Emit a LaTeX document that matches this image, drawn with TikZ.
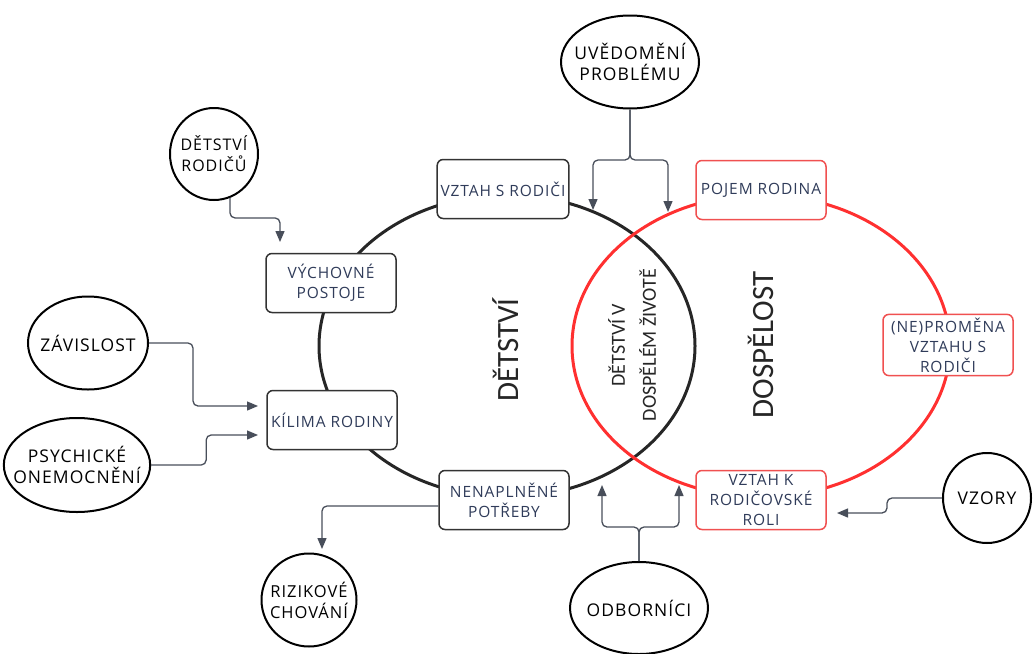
\documentclass[tikz,border=0pt]{standalone}
\usepackage{fontspec}
\usepackage{xcolor}
\usepackage{tikz}
\usetikzlibrary{shapes.geometric,arrows.meta}
\setmainfont{Open Sans}
\newfontfamily\bigfont{Carlito}
\newfontfamily\widefont[LetterSpace=6]{Open Sans}
\definecolor{boxtext}{RGB}{48,60,90}
\definecolor{linegray}{RGB}{72,78,90}
\definecolor{rimred}{RGB}{255,48,48}
\definecolor{boxred}{RGB}{240,80,80}

\begin{document}
\begin{tikzpicture}[x=1pt, y=-1pt,
    box/.style={draw=black!80, line width=1.5pt, rounded corners=6pt, fill=white,
        minimum width=130pt, minimum height=59pt, align=center, text=boxtext,
        font=\widefont\fontsize{15.5}{20}\selectfont},
    redbox/.style={box, draw=boxred},
    oval/.style={draw=black, line width=2pt, ellipse, inner sep=-12pt, align=center,
        font=\widefont\fontsize{17.5}{21}\selectfont},
    conn/.style={draw=linegray, line width=1.3pt, rounded corners=5pt,
        -{Triangle[width=9pt,length=11pt]}}]
            \useasboundingbox (0,0) rectangle (1035,653);

            % Circles
            \coordinate (childc) at (507,346);
            \coordinate (adultc) at (761,346);
            \draw[line width=3pt, black!85] (childc) ellipse [x radius=188pt, y radius=151pt];
            \draw[line width=3pt, rimred] (adultc) ellipse [x radius=189pt, y radius=151pt];

            % Labels inside circles
            \node[rotate=90, font=\bigfont\fontsize{31}{34}\selectfont, text=black!85] (childlabel) at (506,350) {DĚTSTVÍ};
            \node[rotate=90, font=\bigfont\fontsize{31}{34}\selectfont, text=black!85] (adultlabel) at (761,345) {DOSPĚLOST};
            \node[rotate=90, font=\bigfont\fontsize{20}{31}\selectfont, text=black!85, align=center] (overlap) at (632,345) {DĚTSTVÍ V\\DOSPĚLÉM ŽIVOTĚ};

            % Boxes
            \node[box] (vztah) at (503,189) {VZTAH S RODIČI};
            \node[redbox] (pojem) at (761,190) {POJEM RODINA};
            \node[box] (vychovne) at (331,283) {VÝCHOVNÉ\\POSTOJE};
            \node[box] (klima) at (332,420) {KÍLIMA RODINY};
            \node[box] (nenaplnene) at (504,500) {NENAPLNĚNÉ\\POTŘEBY};
            \node[redbox] (rodicovske) at (761,500) {VZTAH K\\RODIČOVSKÉ\\ROLI};
            \node[redbox] (promena) at (948,345) {(NE)PROMĚNA\\VZTAHU S\\RODIČI};

            % Ovals
            \node[oval, minimum width=138pt, minimum height=93pt] (uvedomeni) at (630,62) {UVĚDOMĚNÍ\\PROBLÉMU};
            \node[oval, minimum width=88pt, minimum height=92pt, font=\widefont\fontsize{16}{21}\selectfont] (detstvirodicu) at (214,154) {DĚTSTVÍ\\RODIČŮ};
            \node[oval, minimum width=120pt, minimum height=93pt] (zavislost) at (88,343) {ZÁVISLOST};
            \node[oval, minimum width=140pt, minimum height=94pt] (psychicke) at (77,465) {PSYCHICKÉ\\ONEMOCNĚNÍ};
            \node[oval, minimum width=95pt, minimum height=93pt, font=\widefont\fontsize{16.5}{21}\selectfont] (rizikove) at (309,600) {RIZIKOVÉ\\CHOVÁNÍ};
            \node[oval, minimum width=138pt, minimum height=92pt] (odbornici) at (639,608) {ODBORNÍCI};
            \node[oval, minimum width=88pt, minimum height=90pt] (vzory) at (987,498) {VZORY};

            % Arrow ends
            \coordinate (usplit) at (630,160);
            \coordinate (utipL) at (593,210);
            \coordinate (utipR) at (668,212);
            \coordinate (vtip) at (280,242);
            \coordinate (ztip) at (258,406);
            \coordinate (ptip) at (258,435);
            \coordinate (rtip) at (322,549);
            \coordinate (osplit) at (639,527);
            \coordinate (otipL) at (602,485);
            \coordinate (otipR) at (679,485);
            \coordinate (vztip) at (837,513);

            % Connectors
            \draw[conn] (uvedomeni.south) -- (usplit) -| (utipL);
            \draw[conn] (uvedomeni.south) -- (usplit) -| (utipR);
            \draw[conn] (detstvirodicu.-70) -- ++(0,20) -| (vtip);
            \draw[conn] (zavislost.east) -- ++(44,0) |- (ztip);
            \draw[conn] (psychicke.east) -- ++(55,0) |- (ptip);
            \draw[conn] ([yshift=-6pt]nenaplnene.west) -| (rtip);
            \draw[conn] (odbornici.north) -- (osplit) -| (otipL);
            \draw[conn] (odbornici.north) -- (osplit) -| (otipR);
            \draw[conn] (vzory.west) -- ++(-55,0) |- (vztip);

        \end{tikzpicture}
\end{document}
